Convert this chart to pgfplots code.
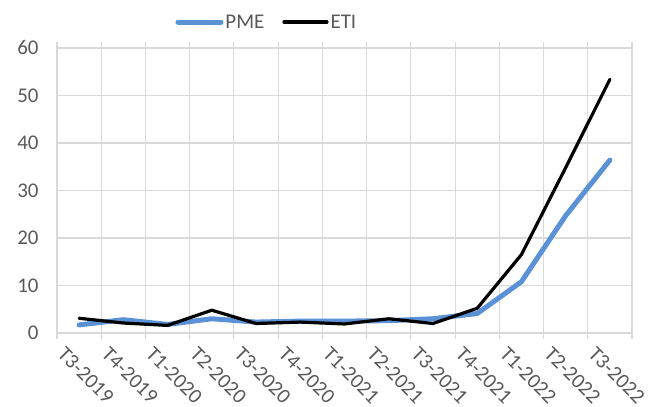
\documentclass[border=0pt]{standalone}
\usepackage{fontspec}
\setmainfont{Carlito}
\usepackage{pgfplots}
\pgfplotsset{compat=1.18}
\definecolor{pmeblue}{RGB}{91,146,214}
\definecolor{gridgray}{RGB}{217,217,217}
\definecolor{txtgray}{RGB}{89,89,89}
\begin{document}
\begin{tikzpicture}
\begin{axis}[
  scale only axis,
  width=575bp, height=285bp,
  xmin=-0.5, xmax=12.5, ymin=0, ymax=60,
  xtick={0,...,12},
  xticklabels={T3-2019,T4-2019,T1-2020,T2-2020,T3-2020,T4-2020,T1-2021,T2-2021,T3-2021,T4-2021,T1-2022,T2-2022,T3-2022},
  minor xtick={-0.5,0.5,1.5,2.5,3.5,4.5,5.5,6.5,7.5,8.5,9.5,10.5,11.5,12.5},
  ymajorgrids, xminorgrids,
  ytick={0,10,...,60},
  grid style={gridgray, line width=1.1bp},
  minor grid style={gridgray, line width=1.1bp},
  axis line style={draw=none},
  major tick length=0pt,
  minor tick length=6bp,
  tick align=outside,
  minor tick style={gridgray, line width=1.1bp},
  font=\fontsize{21}{25}\selectfont,
  tick label style={text=txtgray, font=\fontsize{21}{25}\selectfont},
  /pgf/number format/assume math mode=true,
  yticklabel style={xshift=-15bp},
  xticklabel style={xshift=-13bp, yshift=-8bp, rotate=-45, anchor=north west},
  legend style={at={(0.365,1.091)}, anchor=center, draw=none, fill=none,
    legend columns=2, font=\fontsize{21}{25}\selectfont, text=txtgray,
    /tikz/every even column/.append style={column sep=16bp},
    inner sep=0pt},
  legend image code/.code={\draw[#1] (0bp,0bp) -- (43bp,0bp);},
  clip=false,
]
\coordinate (bl) at (rel axis cs:0,0);
\addplot[pmeblue, line width=5bp, line cap=round, line join=round] coordinates {
(0,1.7) (1,2.8) (2,1.8) (3,3.0) (4,2.3) (5,2.5) (6,2.5) (7,2.6) (8,3.0) (9,4.1) (10,10.8) (11,24.7) (12,36.4)};
\addlegendentry{PME}
\addplot[black, line width=3.2bp, line cap=round, line join=round] coordinates {
(0,3.1) (1,2.1) (2,1.6) (3,4.8) (4,2.0) (5,2.3) (6,1.9) (7,3.0) (8,2.0) (9,5.2) (10,16.5) (11,34.8) (12,53.4)};
\addlegendentry{ETI}
\end{axis}
\pgfresetboundingbox
\path[use as bounding box] (bl) ++(-57bp,-74bp) rectangle ++(667bp,407bp);
\end{tikzpicture}
\end{document}
